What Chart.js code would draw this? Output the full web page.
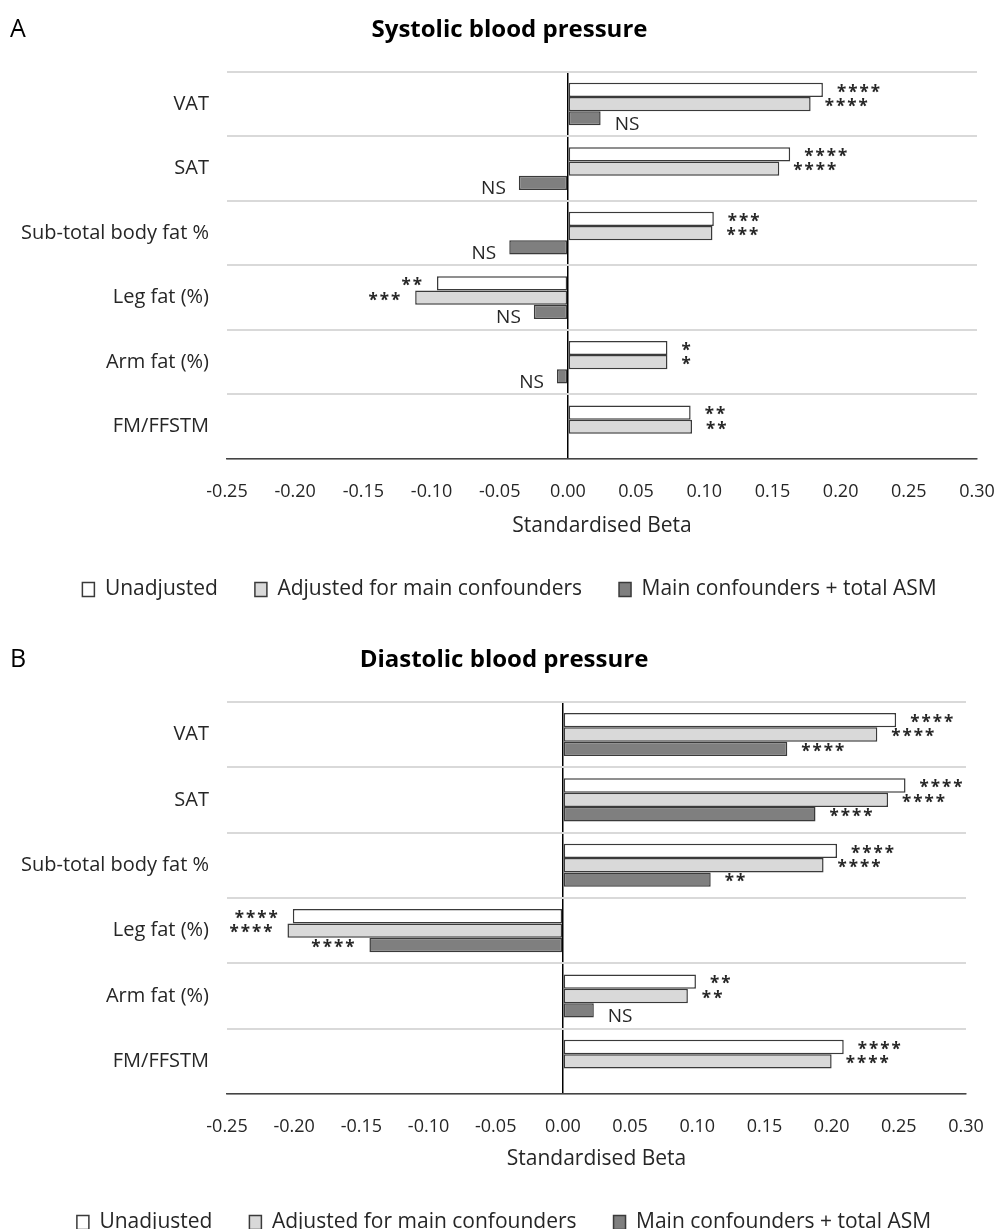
<!DOCTYPE html>
<html>
<head>
<meta charset="utf-8">
<script src="https://cdn.jsdelivr.net/npm/chart.js@4.4.1/dist/chart.umd.min.js"></script>
<style>
  html, body { margin: 0; padding: 0; background: #fff; overflow: hidden; }
  body { width: 997px; height: 1229px; position: relative; }
  .panel { position: absolute; left: 0; width: 997px; }
  #panelA { top: 0; height: 630px; }
  #panelB { top: 630px; height: 635px; }
</style>
</head>
<body>
<div class="panel" id="panelA"><canvas id="chartA"></canvas></div>
<div class="panel" id="panelB"><canvas id="chartB"></canvas></div>
<script>
// categories and series
const categories = ['VAT', 'SAT', 'Sub-total body fat %', 'Leg fat (%)', 'Arm fat (%)', 'FM/FFSTM'];
const seriesNames = ['Unadjusted', 'Adjusted for main confounders', 'Main confounders + total ASM'];
const seriesColors = ['#ffffff', '#d9d9d9', '#7f7f7f'];

// A - systolic
const sbpUnadjusted = [0.187, 0.163, 0.107, -0.096, 0.073, 0.090];
const sbpAdjusted = [0.178, 0.155, 0.106, -0.112, 0.073, 0.091];
const sbpAsm = [0.024, -0.036, -0.043, -0.025, -0.008, null];
const sbpUnadjustedSig = ['****', '****', '***', '**', '*', '**'];
const sbpAdjustedSig = ['****', '****', '***', '***', '*', '**'];
const sbpAsmSig = ['NS', 'NS', 'NS', 'NS', 'NS', ''];

// B - diastolic
const dbpUnadjusted = [0.248, 0.255, 0.204, -0.201, 0.099, 0.209];
const dbpAdjusted = [0.234, 0.242, 0.194, -0.205, 0.093, 0.200];
const dbpAsm = [0.167, 0.188, 0.110, -0.144, 0.023, null];
const dbpUnadjustedSig = ['****', '****', '****', '****', '**', '****'];
const dbpAdjustedSig = ['****', '****', '****', '****', '**', '****'];
const dbpAsmSig = ['****', '****', '**', '****', 'NS', ''];

// x axis
const xMin = -0.25;
const xMax = 0.30;
const xStep = 0.05;

const FONT = "'Open Sans', 'Noto Sans', sans-serif";
const TEXT = '#262626';

const sigLabels = {
    id: 'sigLabels',
    afterDatasetsDraw(chart, args, opts) {
        const ctx = chart.ctx;
        ctx.save();
        ctx.fillStyle = TEXT;
        ctx.textBaseline = 'middle';
        chart.data.datasets.forEach(function (ds, i) {
            const meta = chart.getDatasetMeta(i);
            meta.data.forEach(function (bar, j) {
                const txt = opts.labels[i][j];
                const v = ds.data[j];
                if (!txt || v === null) return;
                const isNS = txt === 'NS';
                ctx.font = isNS ? '19px ' + FONT : 'bold 17px ' + FONT;
                ctx.letterSpacing = isNS ? '0px' : '2px';
                const dy = isNS ? 6 : 3;
                if (v < 0) {
                    ctx.textAlign = 'right';
                    ctx.fillText(txt, bar.x - 13, bar.y + dy);
                } else {
                    ctx.textAlign = 'left';
                    ctx.fillText(txt, bar.x + 14, bar.y + dy);
                }
            });
        });
        ctx.restore();
    }
};

const panelLetter = {
    id: 'panelLetter',
    afterDraw(chart, args, opts) {
        const ctx = chart.ctx;
        ctx.save();
        ctx.font = '25px ' + FONT;
        ctx.fillStyle = '#000';
        ctx.textBaseline = 'middle';
        ctx.textAlign = 'left';
        ctx.fillText(opts.text, 10, opts.y);
        ctx.restore();
    }
};

// title and legend sit a little right of the canvas centre in the original
const nudgeBlocks = {
    id: 'nudgeBlocks',
    afterLayout(chart, args, opts) {
        [chart.titleBlock, chart.legend].forEach(function (b) {
            if (!b) return;
            b.left += opts.dx;
            b.right += opts.dx;
        });
    }
};

function makeChart(id, title, letter, values, sigs, rightPad, bottomPad, axisHeight) {
    const ctx = document.getElementById(id).getContext('2d');
    return new Chart(ctx, {
        type: 'bar',
        data: {
            labels: categories,
            datasets: values.map(function (vals, i) {
                return {
                    label: seriesNames[i],
                    data: vals,
                    backgroundColor: seriesColors[i],
                    borderColor: '#3a3a3a',
                    borderWidth: 1.5,
                    borderSkipped: false,
                    barPercentage: 1,
                    categoryPercentage: 0.66
                };
            })
        },
        options: {
            indexAxis: 'y',
            responsive: true,
            maintainAspectRatio: false,
            animation: false,
            layout: {
                padding: { left: 20, right: rightPad, top: 0, bottom: bottomPad }
            },
            scales: {
                x: {
                    min: xMin,
                    max: xMax,
                    ticks: {
                        stepSize: xStep,
                        color: TEXT,
                        font: { family: FONT, size: 18 },
                        padding: 22,
                        maxRotation: 0,
                        callback: function (v) {
                            return Number(v).toFixed(2);
                        }
                    },
                    grid: {
                        drawTicks: false,
                        color: function (c) {
                            return Math.abs(c.tick.value) < 1e-9 ? '#000000' : 'rgba(0,0,0,0)';
                        },
                        lineWidth: 1.5
                    },
                    border: { display: true, color: '#444444', width: 1.5 },
                    title: {
                        display: true,
                        text: 'Standardised Beta',
                        color: TEXT,
                        font: { family: FONT, size: 21 },
                        padding: { top: 0, bottom: 3 }
                    },
                    afterFit: function (scale) {
                        scale.height = axisHeight;
                        scale.paddingLeft = 0;
                        scale.paddingRight = 0;
                    }
                },
                y: {
                    ticks: {
                        color: TEXT,
                        font: { family: FONT, size: 20 },
                        padding: 18
                    },
                    grid: {
                        offset: true,
                        drawTicks: false,
                        color: '#d9d9d9',
                        lineWidth: 2
                    },
                    border: { display: false },
                    afterFit: function (scale) {
                        scale.width = 207;
                    }
                }
            },
            plugins: {
                title: {
                    display: true,
                    text: title,
                    color: '#000',
                    font: { family: FONT, size: 24, weight: 'bold' },
                    padding: { top: 16, bottom: 27 }
                },
                legend: {
                    position: 'bottom',
                    labels: {
                        boxWidth: 12,
                        boxHeight: 14,
                        color: TEXT,
                        font: { family: FONT, size: 21 },
                        padding: 37
                    }
                },
                tooltip: { enabled: false },
                sigLabels: { labels: sigs },
                panelLetter: { text: letter, y: 30 },
                nudgeBlocks: { dx: 11 }
            }
        },
        plugins: [sigLabels, panelLetter, nudgeBlocks]
    });
}

makeChart('chartA', 'Systolic blood pressure', 'A',
    [sbpUnadjusted, sbpAdjusted, sbpAsm],
    [sbpUnadjustedSig, sbpAdjustedSig, sbpAsmSig], 20, 20, 83);
makeChart('chartB', 'Diastolic blood pressure', 'B',
    [dbpUnadjusted, dbpAdjusted, dbpAsm],
    [dbpUnadjustedSig, dbpAdjustedSig, dbpAsmSig], 31, 22, 81);
</script>
</body>
</html>
